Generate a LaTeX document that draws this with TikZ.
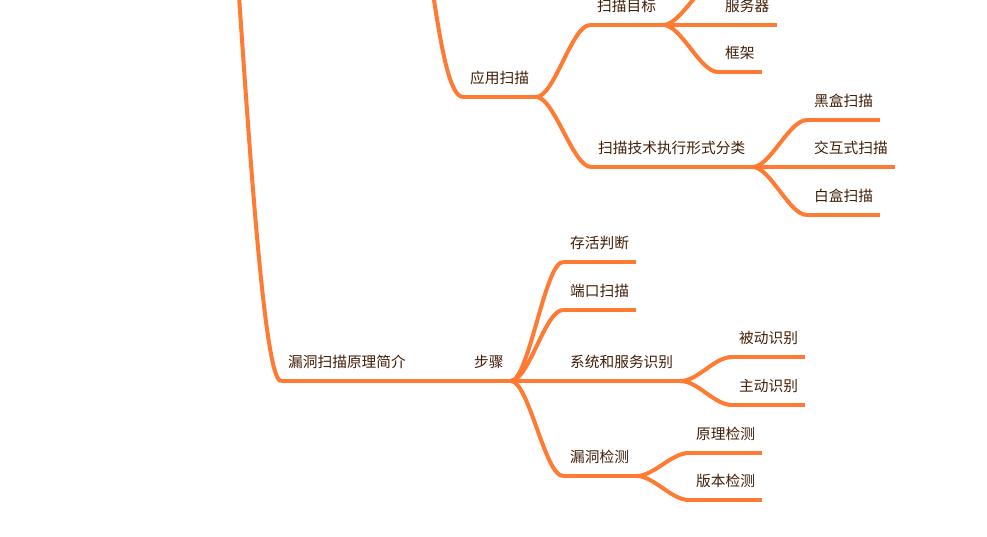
\documentclass[tikz,border=0pt]{standalone}
\usepackage{fontspec}
\setmainfont{Noto Sans CJK SC}
\usepackage{tikz}
\usepackage{xcolor}
\definecolor{mapline}{RGB}{255,123,51}
\definecolor{mapink}{RGB}{64,30,8}

\begin{document}
\begin{tikzpicture}[
    x=1pt, y=-1pt,
    every node/.style={font=\fontsize{14.7}{17}\selectfont, text=mapink},
    topic/.style={anchor=south west, inner xsep=7pt, inner ysep=10pt, text height=11pt, text depth=3pt},
    link/.style={draw=mapline, line width=4pt}
]
\useasboundingbox (0,0) rectangle (987,536);
\clip (0,0) rectangle (987,536);

\coordinate (rootend) at (212,-280);
\coordinate (scanend) at (411,-97);
\coordinate (hostsw) at (720,-22);

\node[topic] (apps) at (463,97) {应用扫描};
\node[topic] (target) at (590,25) {扫描目标};
\node[topic] (server) at (718,25) {服务器};
\node[topic] (frame) at (718,72) {框架};
\node[topic] (tech) at (591,167) {扫描技术执行形式分类};
\node[topic] (black) at (807,120) {黑盒扫描};
\node[topic] (inter) at (807,167) {交互式扫描};
\node[topic] (white) at (807,215) {白盒扫描};

\node[topic] (intro) at (281,381) {漏洞扫描原理简介};
\node[topic] (step) at (467,381) {步骤};
\node[topic] (alive) at (563,262) {存活判断};
\node[topic] (port) at (563,310) {端口扫描};
\node[topic] (sys) at (563,381) {系统和服务识别};
\node[topic] (passive) at (732,357) {被动识别};
\node[topic] (active) at (732,405) {主动识别};
\node[topic] (vuln) at (563,476) {漏洞检测};
\node[topic] (principle) at (689,453) {原理检测};
\node[topic] (version) at (689,500) {版本检测};

\foreach \n in {apps,target,server,frame,tech,black,inter,white,
                intro,step,alive,port,sys,passive,active,vuln,principle,version}
    \draw[link] (\n.south west) -- (\n.south east);

\foreach \a/\b in {apps/target,apps/tech,target/server,target/frame,
                   tech/black,tech/inter,tech/white,
                   intro/step,step/alive,step/port,step/sys,step/vuln,
                   sys/passive,sys/active,vuln/principle,vuln/version}
    \draw[link] (\a.south east) .. controls +(18,0) and +(-18,0) .. (\b.south west);

\draw[link] (rootend) .. controls +(18,0) and +(-28,0) .. (intro.south west);
\draw[link] (scanend) .. controls +(18,0) and +(-26,0) .. (apps.south west);
\draw[link] (target.south east) .. controls +(18,0) and +(-18,0) .. (hostsw);

\end{tikzpicture}
\end{document}
